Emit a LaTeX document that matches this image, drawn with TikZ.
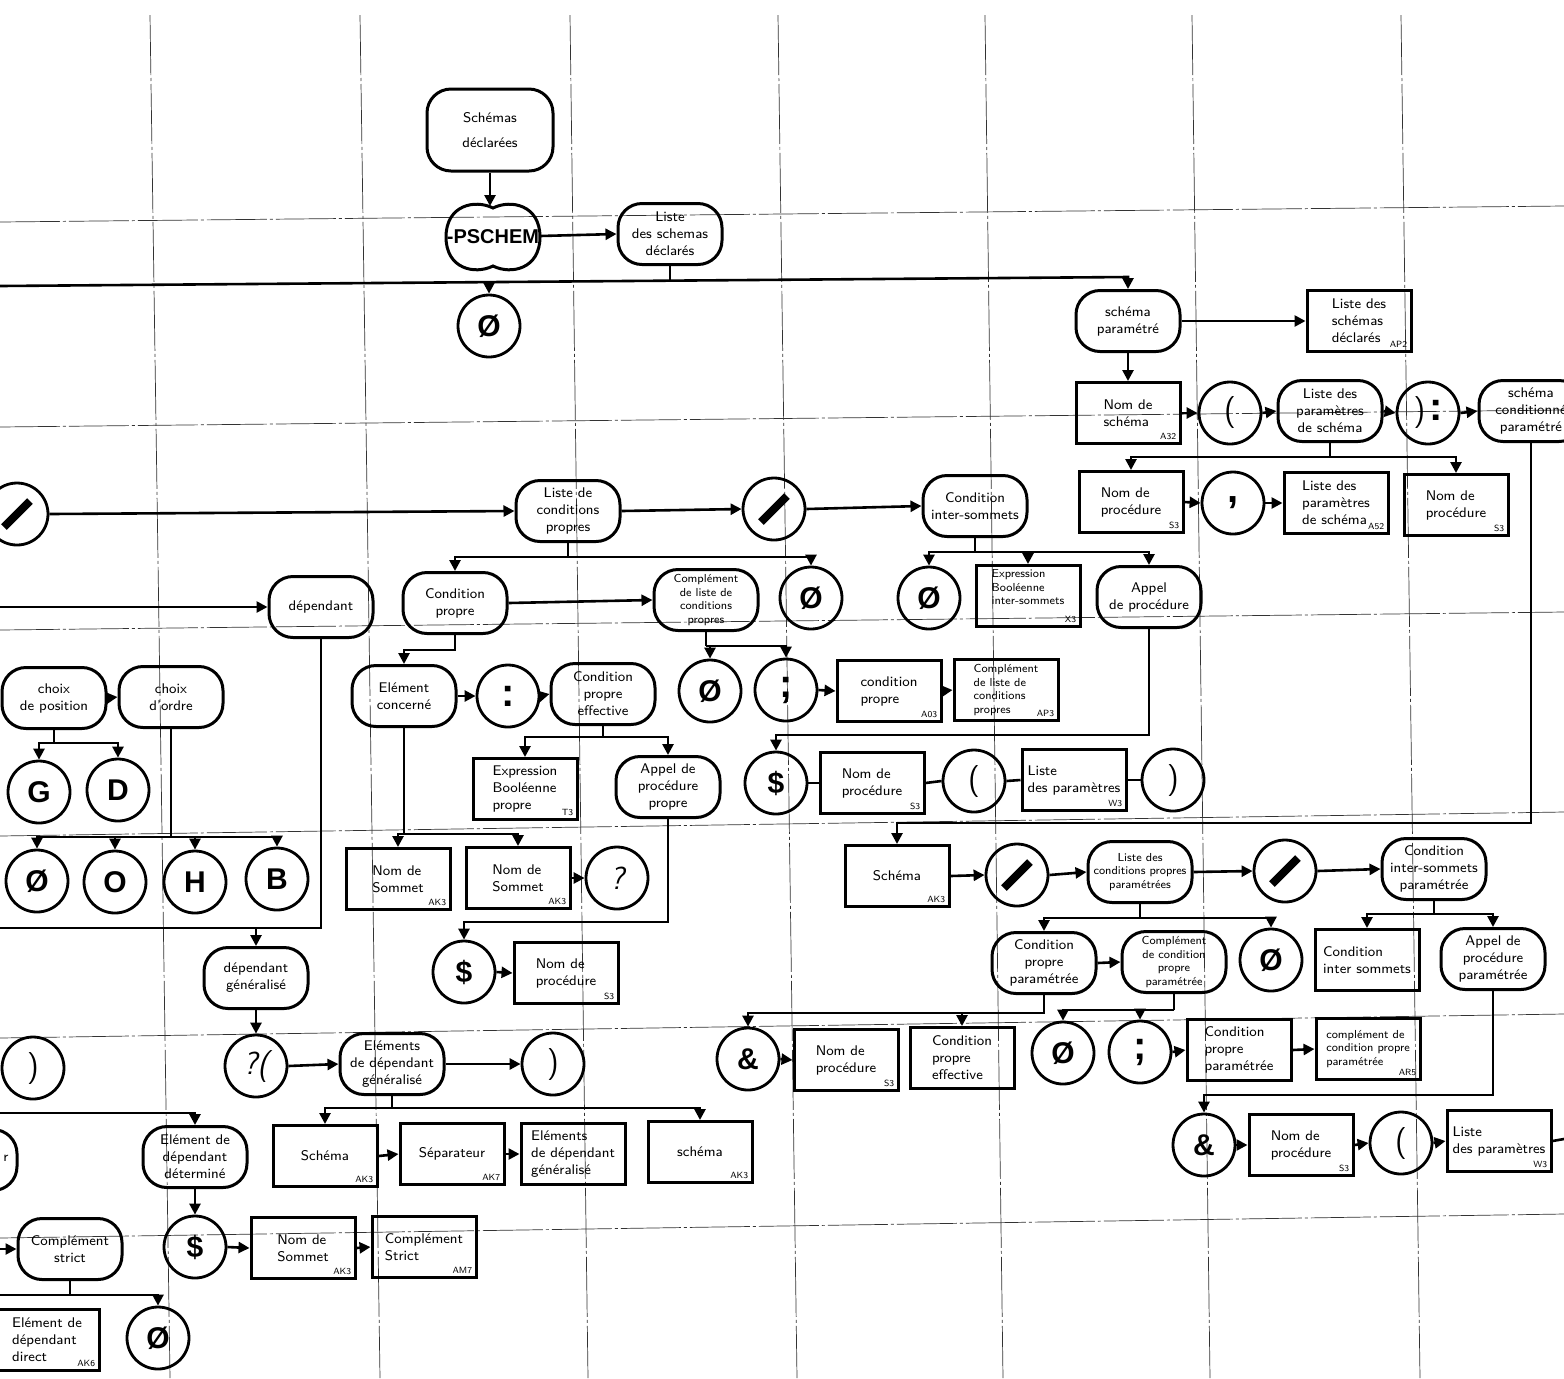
\documentclass[tikz,border=0pt]{standalone}
\usepackage{fontspec}
\newfontfamily\libsans{Liberation Sans}
\usetikzlibrary{arrows.meta}
\newcommand\txN{\sffamily\fontsize{7}{8.5}\selectfont}
\newcommand\txS{\sffamily\fontsize{5.8}{6.8}\selectfont}
\newcommand\cdF{\sffamily\fontsize{4.5}{5}\selectfont}
\newcommand\symF{\libsans\bfseries\fontsize{15}{15}\selectfont}
\newcommand\bigF{\libsans\bfseries\fontsize{20}{20}\selectfont}
\newcommand\parF{\sffamily\fontsize{16}{16}\selectfont}
\newcommand\qF{\sffamily\slshape\fontsize{16}{16}\selectfont}
\tikzset{
 term/.style={rectangle, rounded corners=12pt, draw, line width=1.5pt, minimum width=52pt, minimum height=30.5pt, inner sep=1pt, align=center, font=\txN},
 bx/.style={rectangle, draw, line width=1.5pt, minimum width=52pt, minimum height=30.5pt, inner sep=2pt, align=left, font=\txN},
 sym/.style={circle, draw, line width=1.4pt, minimum size=31pt, inner sep=0pt, font=\symF},
 par/.style={sym, font=\parF},
 code/.style={font=\cdF, inner sep=1pt, anchor=south east, xshift=-1.5pt, yshift=1.5pt},
 ln/.style={line width=1.3pt},
 arr/.style={ln, -{Triangle[length=5.5pt,width=5.5pt]}},
 gridl/.style={line width=0.35pt, black!80, dash pattern=on 30pt off 1.5pt on 1.5pt off 1.5pt},
 slashbar/.style={line width=4pt},
}
\newcommand\bxn[5][]{\node[bx,#1] (#2) at (#3) {#4}; \node[code] (#2c) at (#2.south east) {#5};}
\newcommand\slashin[1]{\draw[slashbar] (#1.center) ++(-13,13) -- ++(26,-26);}
\begin{document}
\begin{tikzpicture}[x=0.5pt,y=-0.5pt]
\path[use as bounding box, fill=white] (0,0) rectangle (1564,1378);
\clip (0,0) rectangle (1564,1378);
% grid
\foreach \a/\b in {150/170,360/380,570/588,778/797,985/1003,1192/1210,1401/1420} \draw[gridl] (\a,15) -- (\b,1378);
\foreach \a/\b in {222/206,427/410,630/612,836/812,1038/1014,1238/1214} \draw[gridl] (0,\a) -- (1564,\b);

% ---------- top ----------
\node[term, minimum width=63pt, minimum height=41pt] (sd) at (490,130) {Schémas\\[4pt]déclarées};
\node[font=\libsans\bfseries\fontsize{10}{10}\selectfont, inner sep=0pt] (ps) at (493,237) {-PSCHEM};
\draw[line width=1.5pt, shift={(ps.center)}] (0,-29) .. controls (-18,-38) and (-47,-32) .. (-47,0) .. controls (-47,32) and (-18,38) .. (0,29) .. controls (18,38) and (47,32) .. (47,0) .. controls (47,-32) and (18,-38) .. (0,-29) -- cycle;
\coordinate (pstop) at (490,206);
\coordinate (pseast) at (540,236);
\node[term] (lsd) at (670,234) {Liste\\des schemas\\déclarés};
\node[sym] (e0) at (489,326) {Ø};
\node[term] (spm) at (1128,321) {schéma\\paramétré};
\bxn{lsd2}{1359,321}{Liste des\\schémas\\déclarés}{AP2}
\bxn{nsc}{1128,413}{Nom de\\schéma}{A32}
\node[par] (po1) at (1230,413) {(};
\node[term] (lps) at (1330,411) {Liste des\\paramètres\\de schéma};
\node[par] (pc1) at (1428,413) {)\kern2pt{\bigF:}};
\node[term] (scp) at (1531,411) {schéma\\conditionné\\paramétré};
\bxn{np1}{1131,502}{Nom de\\procédure}{S3}
\node[sym, font=\bigF] (cm1) at (1233,503) {,};
\bxn{lps2}{1336,503}{Liste des\\paramètres\\de schéma}{A52}
\bxn{np2}{1456,505}{Nom de\\procédure}{S3}

% ---------- middle ----------
\node[sym] (sl1) at (17,514) {}; \slashin{sl1}
\node[term] (lcp) at (568,511) {Liste de\\conditions\\propres};
\node[sym] (sl2) at (774,509) {}; \slashin{sl2}
\node[term] (cis) at (975,506) {Condition\\inter-sommets};
\node[term] (cpr) at (455,603) {Condition\\propre};
\node[term, font=\txS] (cll) at (706,600) {Complément\\de liste de\\conditions\\propres};
\node[sym] (e1) at (811,598) {Ø};
\node[sym] (e2) at (929,598) {Ø};
\bxn[font=\txS]{ebi}{1028,596}{Expression\\Booléenne\\inter-sommets\\[2pt]\mbox{}}{X3}
\node[term] (apd) at (1149,597) {Appel\\de procédure};
\node[term] (dep) at (321,607) {dépendant};
\node[sym] (e3) at (710,691) {Ø};
\node[sym, font=\bigF] (sc1) at (786,690) {;};
\bxn{cp2}{889,691}{condition\\propre}{A03}
\bxn[font=\txS]{cll2}{1006,690}{Complément\\de liste de\\conditions\\propres}{AP3}
\node[sym] (dl1) at (776,783) {\$};
\bxn{np3}{872,783}{Nom de\\procédure}{S3}
\node[par] (po2) at (974,781) {(};
\bxn{lpr}{1074,780}{Liste\\des paramètres}{W3}
\node[par] (pc2) at (1173,780) {)};
\node[term] (ec) at (404,696) {Elément\\concerné};
\node[sym, font=\bigF] (co) at (508,696) {:};
\node[term] (cpe) at (603,694) {Condition\\propre\\effective};
\bxn{ebp}{525,789}{Expression\\Booléenne\\propre}{T3}
\node[term] (app) at (668,787) {Appel de\\procédure\\propre};
\node[sym] (dl2) at (464,972) {\$};
\bxn{np4}{566,973}{Nom de\\procédure}{S3}
\bxn{ns1}{398,879}{Nom de\\Sommet}{AK3}
\bxn{ns2}{518,878}{Nom de\\Sommet}{AK3}
\node[sym, font=\qF] (qm) at (617,878) {?};

% ---------- left ----------
\node[term] (chp) at (54,698) {choix\\de position};
\node[term] (cho) at (171,697) {choix\\d'ordre};
\node[sym] (nG) at (39,792) {G};
\node[sym] (nD) at (118,790) {D};
\node[sym] (e4) at (37,881) {Ø};
\node[sym] (nO) at (115,882) {O};
\node[sym] (nH) at (195,882) {H};
\node[sym] (nB) at (277,879) {B};
\node[term] (dg) at (256,978) {dépendant\\généralisé};
\node[sym, font=\qF] (qp) at (256,1066) {?(};
\node[term] (edg) at (392,1064) {Eléments\\de dépendant\\généralisé};
\node[par] (pc3) at (553,1064) {)};
\bxn{sch2}{325,1156}{Schéma}{AK3}
\bxn{sep}{452,1154}{Séparateur}{AK7}
\node[bx] (edg2) at (573,1154) {Eléments\\de dépendant\\généralisé};
\bxn{sch3}{700,1152}{schéma}{AK3}
\node[par] (pc4) at (33,1068) {)};
\node[term] (xr) at (-35,1160) {};
\node[font=\txN] (xrt) at (6,1158) {r};
\node[term] (edd) at (195,1157) {Elément de\\dépendant\\déterminé};
\node[sym] (dl3) at (195,1247) {\$};
\bxn{ns3}{303,1248}{Nom de\\Sommet}{AK3}
\bxn{cs2}{424,1247}{Complément\\Strict}{AM7}
\node[term] (cs1) at (70,1249) {Complément\\strict};
\node[sym] (e5) at (158,1338) {Ø};
\bxn{edd2}{47,1340}{Elément de\\dépendant\\direct}{AK6}

% ---------- bottom right ----------
\bxn{sch1}{897,876}{Schéma}{AK3}
\node[sym] (sl3) at (1017,875) {}; \slashin{sl3}
\node[term, font=\txS] (lcpp) at (1140,872) {Liste des\\conditions propres\\paramétrées};
\node[sym] (sl4) at (1285,871) {}; \slashin{sl4}
\node[term] (cisp) at (1434,869) {Condition\\inter-sommets\\paramétrée};
\node[term] (cpp) at (1044,963) {Condition\\propre\\paramétrée};
\node[term, font=\txS] (ccp) at (1174,962) {Complément\\de condition\\propre\\paramétrée};
\node[sym] (e6) at (1271,960) {Ø};
\node[bx] (cis2) at (1367,960) {Condition\\inter sommets};
\node[term] (appp) at (1493,959) {Appel de\\procédure\\paramétrée};
\node[sym] (amp1) at (748,1059) {\&};
\bxn{np5}{846,1060}{Nom de\\procédure}{S3}
\node[bx] (cpe2) at (962,1058) {Condition\\propre\\effective};
\node[sym] (e7) at (1063,1053) {Ø};
\node[sym, font=\bigF] (sc2) at (1140,1052) {;};
\node[bx] (cpp2) at (1239,1050) {Condition\\propre\\paramétrée};
\bxn[font=\txS]{ccp2}{1368,1049}{complément de\\condition propre\\paramétrée}{AR5}
\node[sym] (amp2) at (1204,1145) {\&};
\bxn{np6}{1301,1145}{Nom de\\procédure}{S3}
\node[par] (po3) at (1401,1143) {(};
\bxn{lpr2}{1499,1141}{Liste\\des paramètres}{W3}

% ---------- coordinates ----------
\coordinate (m0) at (0,286);
\coordinate (m1) at (1128,277);
\coordinate (mj) at (670,279.5);
\coordinate (me) at (489,281);
\coordinate (din) at (0,607);
\coordinate (dl0) at (0,928);
\coordinate (ein) at (0,1113);
\coordinate (cin) at (0,1249);
\coordinate (cbar) at (0,1295);
\coordinate (lout) at (1564,1139);

% ---------- connectors: top ----------
\draw[arr] (sd.south) -- (pstop);
\draw[arr] (pseast) -- (lsd.west);
\draw[arr] (m0) -- (m1) -- (spm.north);
\draw[ln] (lsd.south) -- (mj);
\draw[arr] (me) -- (e0.north);
\draw[arr] (spm.east) -- (lsd2.west);
\draw[arr] (spm.south) -- (nsc.north);
\draw[arr] (nsc.east) -- (po1.west);
\draw[arr] (po1.east) -- (lps.west);
\draw[arr] (lps.east) -- (pc1.west);
\draw[arr] (pc1.east) -- (scp.west);
\draw[ln] (lps.south) -- (lps.south |- 0,457);
\draw[arr] (lps.south |- 0,457) -| (np1.north);
\draw[arr] (lps.south |- 0,457) -| (np2.north);
\draw[arr] (np1.east) -- (cm1.west);
\draw[arr] (cm1.east) -- (lps2.west);
\draw[arr] (scp.south) |- (sch1.north |- 0,823) -- (sch1.north);

% ---------- connectors: middle ----------
\draw[arr] (sl1.east) -- (lcp.west);
\draw[arr] (lcp.east) -- (sl2.west);
\draw[arr] (sl2.east) -- (cis.west);
\draw[ln] (lcp.south) -- (lcp.south |- 0,557);
\draw[arr] (lcp.south |- 0,557) -| (cpr.north);
\draw[arr] (lcp.south |- 0,557) -| (e1.north);
\draw[arr] (cpr.east) -- (cll.west);
\draw[ln] (cis.south) -- (cis.south |- 0,552);
\draw[arr] (cis.south |- 0,552) -| (e2.north);
\draw[arr] (cis.south |- 0,552) -| (ebi.north);
\draw[arr] (cis.south |- 0,552) -| (apd.north);
\draw[arr] (din) -- (dep.west);
\draw[ln] (cll.south) -- (cll.south |- 0,646);
\draw[arr] (cll.south |- 0,646) -| (e3.north);
\draw[arr] (cll.south |- 0,646) -| (sc1.north);
\draw[arr] (sc1.east) -- (cp2.west);
\draw[arr] (cp2.east) -- (cll2.west);
\draw[arr] (apd.south) |- (dl1.north |- 0,735) -- (dl1.north);
\draw[ln] (dl1.east) -- (np3.west);
\draw[ln] (np3.east) -- (po2.west);
\draw[ln] (po2.east) -- (lpr.west);
\draw[ln] (lpr.east) -- (pc2.west);
\draw[arr] (cpr.south) |- (ec.north |- 0,650) -- (ec.north);
\draw[arr] (ec.east) -- (co.west);
\draw[arr] (co.east) -- (cpe.west);
\draw[ln] (cpe.south) -- (cpe.south |- 0,737);
\draw[arr] (cpe.south |- 0,737) -| (ebp.north);
\draw[arr] (cpe.south |- 0,737) -| (app.north);
\draw[arr] (app.south) |- (dl2.north |- 0,922) -- (dl2.north);
\draw[arr] (dl2.east) -- (np4.west);
\draw[ln] (ec.south) -- (ec.south |- 0,834);
\draw[arr] (ec.south |- 0,834) -| (ns1.north);
\draw[arr] (ec.south |- 0,834) -| (ns2.north);
\draw[arr] (ns2.east) -- (qm.west);

% ---------- connectors: left ----------
\draw[arr] (chp.east) -- (cho.west);
\draw[ln] (chp.south) -- (chp.south |- 0,743);
\draw[arr] (chp.south |- 0,743) -| (nG.north);
\draw[arr] (chp.south |- 0,743) -| (nD.north);
\draw[ln] (cho.south) -- (cho.south |- 0,837);
\foreach \n in {e4,nO,nH,nB} \draw[arr] (cho.south |- 0,837) -| (\n.north);
\draw[ln] (dep.south) |- (dl0);
\draw[arr] (dg.north |- 0,928) -- (dg.north);
\draw[arr] (dg.south) -- (qp.north);
\draw[arr] (qp.east) -- (edg.west);
\draw[arr] (edg.east) -- (pc3.west);
\draw[ln] (edg.south) -- (edg.south |- 0,1108);
\draw[arr] (edg.south |- 0,1108) -| (sch2.north);
\draw[arr] (edg.south |- 0,1108) -| (sch3.north);
\draw[arr] (sch2.east) -- (sep.west);
\draw[arr] (sep.east) -- (edg2.west);
\draw[arr] (ein) -| (edd.north);
\draw[arr] (edd.south) -- (dl3.north);
\draw[arr] (dl3.east) -- (ns3.west);
\draw[arr] (ns3.east) -- (cs2.west);
\draw[arr] (cin) -- (cs1.west);
\draw[ln] (cs1.south) -- (cs1.south |- 0,1295);
\draw[arr] (cbar) -| (e5.north);

% ---------- connectors: bottom right ----------
\draw[arr] (sch1.east) -- (sl3.west);
\draw[arr] (sl3.east) -- (lcpp.west);
\draw[arr] (lcpp.east) -- (sl4.west);
\draw[arr] (sl4.east) -- (cisp.west);
\draw[ln] (lcpp.south) -- (lcpp.south |- 0,918);
\draw[arr] (lcpp.south |- 0,918) -| (cpp.north);
\draw[arr] (lcpp.south |- 0,918) -| (e6.north);
\draw[arr] (cpp.east) -- (ccp.west);
\draw[ln] (cisp.south) -- (cisp.south |- 0,914);
\draw[arr] (cisp.south |- 0,914) -| (cis2.north);
\draw[arr] (cisp.south |- 0,914) -| (appp.north);
\draw[arr] (cpp.south) |- (amp1.north |- 0,1013) -- (amp1.north);
\draw[arr] (cpe2.north |- 0,1013) -- (cpe2.north);
\draw[arr] (amp1.east) -- (np5.west);
\draw[ln] (ccp.south) -- (ccp.south |- 0,1010);
\draw[arr] (ccp.south |- 0,1010) -| (e7.north);
\draw[arr] (ccp.south |- 0,1010) -| (sc2.north);
\draw[arr] (sc2.east) -- (cpp2.west);
\draw[arr] (cpp2.east) -- (ccp2.west);
\draw[arr] (appp.south) |- (amp2.north |- 0,1095) -- (amp2.north);
\draw[arr] (amp2.east) -- (np6.west);
\draw[arr] (np6.east) -- (po3.west);
\draw[arr] (po3.east) -- (lpr2.west);
\draw[ln] (lpr2.east) -- (lout);
\end{tikzpicture}
\end{document}
